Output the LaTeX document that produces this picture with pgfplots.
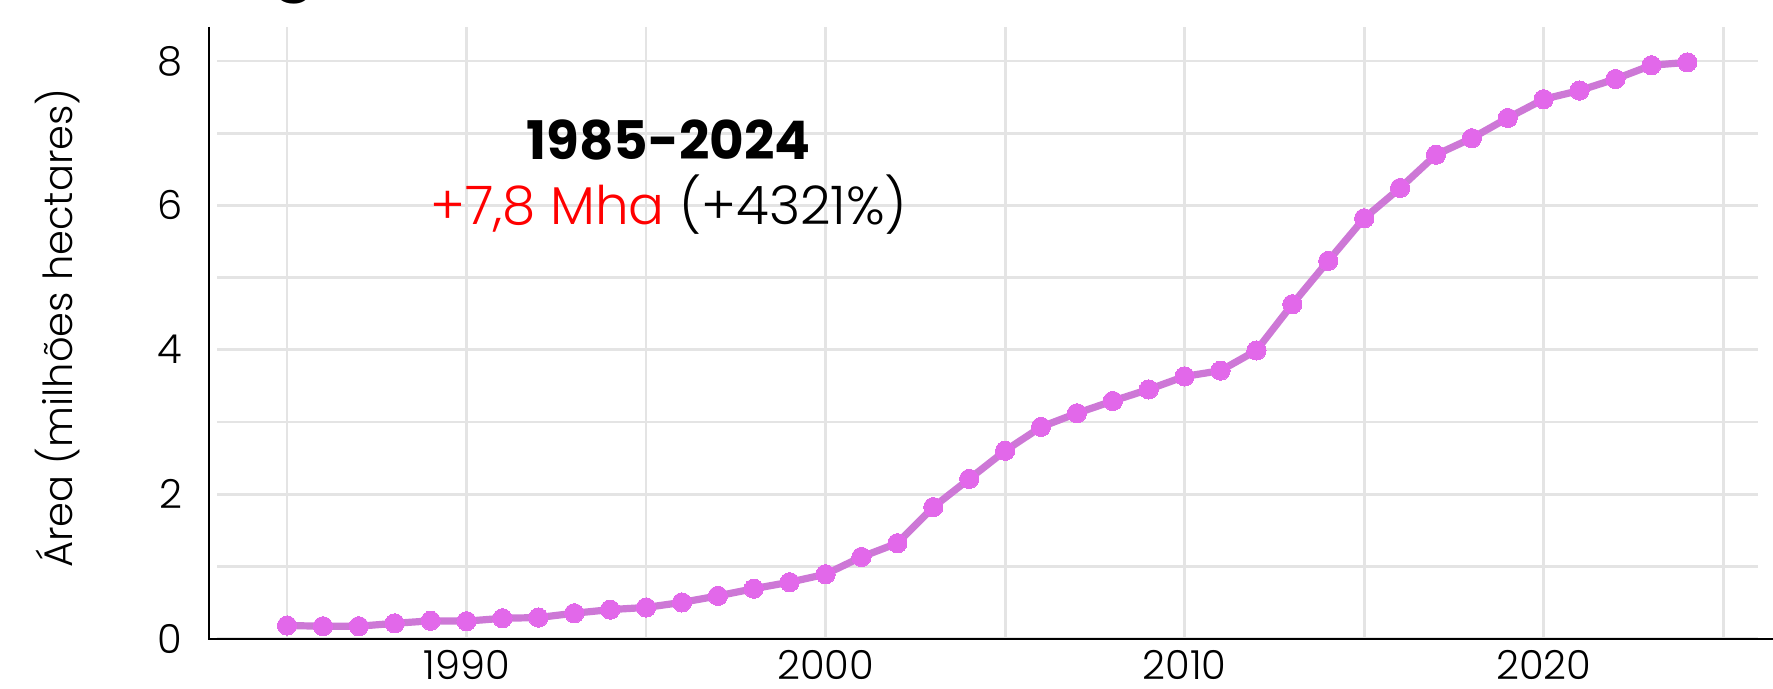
\documentclass[border=0pt]{standalone}
\usepackage{fontspec}
\setmainfont{Poppins Light}[BoldFont={Poppins Bold}]
\usepackage{pgfplots}
\pgfplotsset{compat=1.18}
\usepackage{pgfplotstable}
\definecolor{linec}{RGB}{205,120,214}
\definecolor{markc}{RGB}{226,104,234}
\definecolor{gridc}{RGB}{228,228,228}
\definecolor{annred}{RGB}{255,0,0}
\pgfplotstableread{
year area
1985 0.18
1986 0.17
1987 0.17
1988 0.21
1989 0.245
1990 0.24
1991 0.28
1992 0.29
1993 0.35
1994 0.40
1995 0.43
1996 0.50
1997 0.59
1998 0.69
1999 0.78
2000 0.89
2001 1.13
2002 1.32
2003 1.82
2004 2.21
2005 2.60
2006 2.93
2007 3.12
2008 3.29
2009 3.45
2010 3.63
2011 3.71
2012 3.99
2013 4.63
2014 5.23
2015 5.82
2016 6.24
2017 6.70
2018 6.93
2019 7.21
2020 7.47
2021 7.59
2022 7.75
2023 7.94
2024 7.98
}\areadata
\begin{document}
\begin{tikzpicture}
\useasboundingbox (0,0) rectangle (443.25bp,172.25bp);
\clip (0,0) rectangle (443.25bp,172.25bp);
% cut-off title descender
\node[anchor=base, inner sep=0pt, font=\bfseries\fontsize{16bp}{19bp}\selectfont] at (73.5bp,175.5bp) {g};
\begin{axis}[
  at={(54.25bp,12.625bp)}, anchor=south west,
  scale only axis,
  width=385.25bp, height=152.875bp,
  xmin=1983.05, xmax=2025.97,
  ymin=0, ymax=8.47,
  axis line style={draw=none},
  major tick length=0pt, minor tick length=0pt,
  xtick={1990,2000,2010,2020},
  xticklabels={1990,2000,2010,2020},
  minor xtick={1985,1995,2005,2015,2025},
  ytick={0,2,4,6,8},
  yticklabels={0,2,4,6,8},
  minor ytick={1,3,5,7},
  xmajorgrids, ymajorgrids, xminorgrids, yminorgrids,
  major grid style={draw=gridc, line width=0.7bp},
  minor grid style={draw=gridc, line width=0.7bp},
  /pgf/number format/assume math mode=true,
  tick label style={font=\fontsize{10bp}{12bp}\selectfont, text=black},
  xticklabel style={anchor=north, inner sep=0pt, yshift=-2.8bp},
  yticklabel style={anchor=east, inner sep=0pt, xshift=-8.5bp},
  clip=false,
]
\addplot[color=linec, line width=1.8bp, mark=*, mark size=2.4bp,
  mark options={draw=markc, fill=markc, line width=0pt}] table[x=year, y=area] {\areadata};
\node[anchor=base, inner sep=0pt, font=\bfseries\fontsize{13.3bp}{16bp}\selectfont]
  at (axis cs:1995.63,6.63) {1985-2024};
\node[anchor=base, inner sep=0pt, font=\fontsize{13.3bp}{16bp}\selectfont]
  at (axis cs:1995.63,5.73) {\textcolor{annred}{+7,8 Mha} (+4321\%)};
\end{axis}
\draw[black, line width=0.6bp] (52.25bp,165.5bp) -- (52.25bp,12.5bp) -- (443.25bp,12.5bp);
\node[rotate=90, inner sep=0pt, font=\fontsize{10bp}{12bp}\selectfont] at (14.5bp,90.25bp) {Área (milhões hectares)};
\end{tikzpicture}
\end{document}
